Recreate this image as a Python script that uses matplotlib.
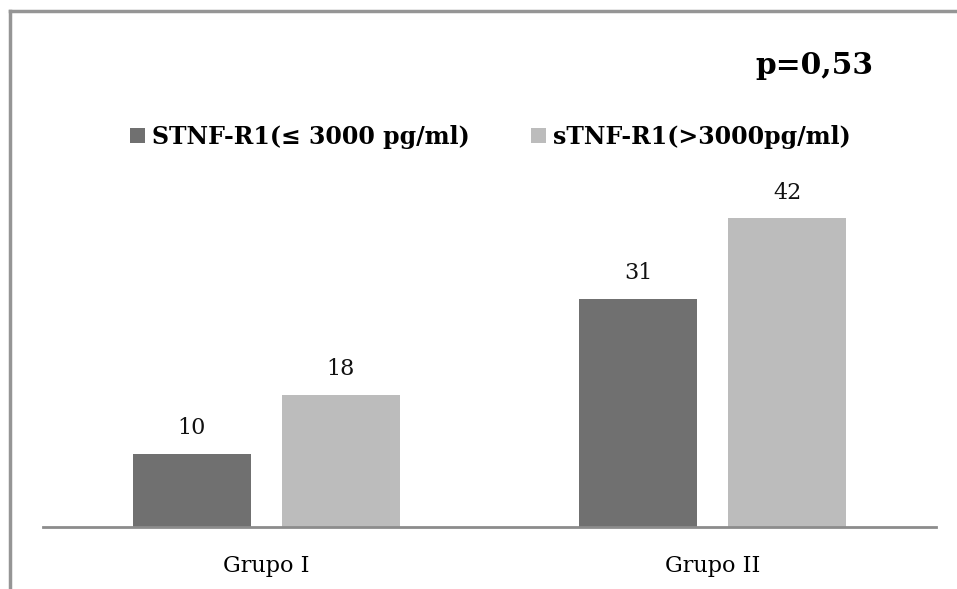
import numpy as np
import matplotlib.pyplot as plt

# Data
groups = ['Grupo I', 'Grupo II']
low_values = [10, 31]
high_values = [18, 42]
series_names = ['STNF-R1(≤ 3000 pg/ml)', 'sTNF-R1(>3000pg/ml)']
p_text = 'p=0,53'

dark = '#707070'
light = '#bcbcbc'
font = ['DejaVu Serif']

fig = plt.figure(figsize=(9.57, 5.89), dpi=100)
ax = fig.add_axes([43 / 957, 62 / 589, 893 / 957, 367.5 / 589])

x = np.arange(len(groups))
width = 0.264
offset = 0.167
bars_low = ax.bar(x - offset, low_values, width, color=dark, label=series_names[0])
bars_high = ax.bar(x + offset, high_values, width, color=light, label=series_names[1])

for bars in (bars_low, bars_high):
    for b in bars:
        ax.text(b.get_x() + b.get_width() / 2, b.get_height() + 2.0,
                f'{int(b.get_height())}', ha='center', va='bottom',
                fontsize=16, family=font, color='#111111')

ax.set_xlim(-0.5, 1.5)
ax.set_ylim(0, 50)
ax.set_xticks(x)
ax.set_xticklabels(groups, family=font, fontsize=16)
ax.tick_params(axis='x', length=0, pad=20)
ax.set_yticks([])
for side in ('top', 'right', 'left'):
    ax.spines[side].set_visible(False)
ax.spines['bottom'].set_color('#8c8c8c')
ax.spines['bottom'].set_linewidth(2)

leg = fig.legend(handles=[bars_low, bars_high], labels=series_names,
                 loc='center left', bbox_to_anchor=(130 / 957, 1 - 137 / 589),
                 ncol=2, frameon=False, handlelength=0.63, handleheight=0.63,
                 handletextpad=0.3, columnspacing=2.6,
                 borderpad=0, borderaxespad=0,
                 prop={'family': font, 'weight': 'bold', 'size': 17})

fig.text(873 / 957, 1 - 66 / 589, p_text, ha='right', va='center',
         family=font, weight='bold', fontsize=21.4)

# outer frame: left and top edges only
fig.add_artist(plt.Line2D([9.5 / 957, 9.5 / 957], [0, 1 - 11 / 589],
                          transform=fig.transFigure, color='#959595', lw=2.5))
fig.add_artist(plt.Line2D([9.5 / 957, 1], [1 - 11 / 589, 1 - 11 / 589],
                          transform=fig.transFigure, color='#959595', lw=2.5))

fig.savefig('out.png', dpi=100)
